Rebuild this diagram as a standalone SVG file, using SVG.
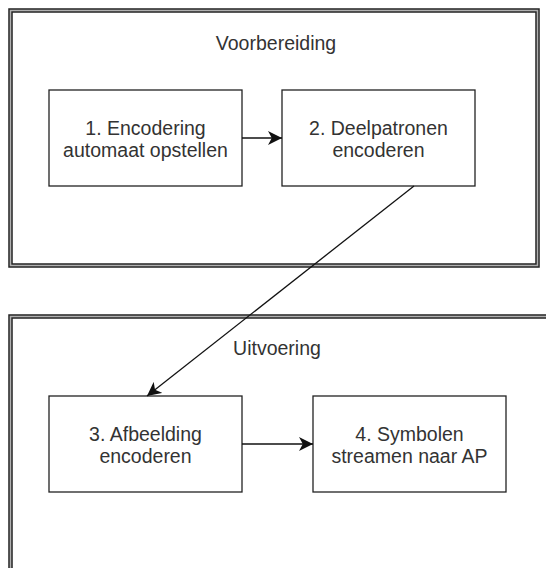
<svg xmlns="http://www.w3.org/2000/svg" width="546" height="568" viewBox="0 0 546 568">
  <style>
    .frame-outer { fill: none; stroke: #222; stroke-width: 4.5; }
    .frame-inner { fill: none; stroke: #b0b0b0; stroke-width: 1.6; }
    .box { fill: #fff; stroke: #222; stroke-width: 1.3; }
    .label { font-family: "Liberation Sans", Arial, sans-serif; font-size: 19.5px; fill: #333; text-anchor: middle; }
    .edge { fill: none; stroke: #111; stroke-width: 1.3; }
  </style>
  <defs>
    <marker id="arrow" markerUnits="userSpaceOnUse" markerWidth="15" markerHeight="15" viewBox="0 0 15 15" refX="14" refY="7.5" orient="auto">
      <path d="M0,0.5 L14,7.5 L0,14.5 L3.8,7.5 Z" fill="#111"/>
    </marker>
  </defs>

  <rect width="546" height="568" fill="#fff"/>

  <!-- Phase containers (double border) -->
  <g id="voorbereiding">
    <rect class="frame-outer" x="10.5" y="10.5" width="527" height="255"/>
    <rect class="frame-inner" x="10.5" y="10.5" width="527" height="255"/>
    <text class="label" x="276" y="50">Voorbereiding</text>
  </g>
  <g id="uitvoering">
    <rect class="frame-outer" x="10.5" y="316.5" width="600" height="300"/>
    <rect class="frame-inner" x="10.5" y="316.5" width="600" height="300"/>
    <text class="label" x="277" y="355">Uitvoering</text>
  </g>

  <!-- Steps -->
  <g id="step1">
    <rect class="box" x="49" y="90" width="193" height="96"/>
    <text class="label" x="145.5" y="135">1. Encodering</text>
    <text class="label" x="145.5" y="157">automaat opstellen</text>
  </g>
  <g id="step2">
    <rect class="box" x="282" y="90" width="193" height="96"/>
    <text class="label" x="378.5" y="135">2. Deelpatronen</text>
    <text class="label" x="378.5" y="157">encoderen</text>
  </g>
  <g id="step3">
    <rect class="box" x="49" y="396" width="193" height="96"/>
    <text class="label" x="145.5" y="441">3. Afbeelding</text>
    <text class="label" x="145.5" y="463">encoderen</text>
  </g>
  <g id="step4">
    <rect class="box" x="313" y="396" width="193" height="96"/>
    <text class="label" x="409.5" y="441">4. Symbolen</text>
    <text class="label" x="409.5" y="463">streamen naar AP</text>
  </g>

  <!-- Connectors -->
  <g id="connectors">
    <line class="edge" x1="242" y1="138" x2="282" y2="138" marker-end="url(#arrow)"/>
    <line class="edge" x1="414" y1="186" x2="147" y2="396" marker-end="url(#arrow)"/>
    <line class="edge" x1="242" y1="444" x2="313" y2="444" marker-end="url(#arrow)"/>
  </g>
</svg>
